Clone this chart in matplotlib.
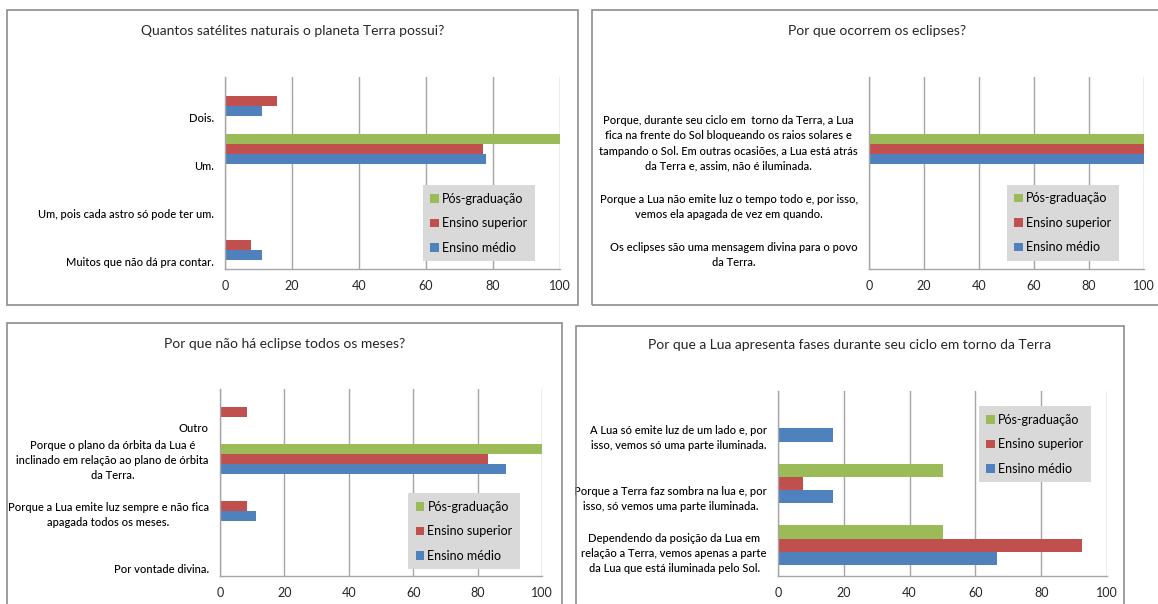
import matplotlib
matplotlib.use("Agg")
import matplotlib.pyplot as plt
import numpy as np
from matplotlib.patches import Rectangle

W, H = 1158, 604
DPI = 100
plt.rcParams['font.family'] = ['Lato', 'DejaVu Sans']

series = ["Pós-graduação", "Ensino superior", "Ensino médio"]
colors = ["#9BBB59", "#C0504D", "#4F81BD"]
xticks = [0, 20, 40, 60, 80, 100]

# Panel 1
title1 = "Quantos satélites naturais o planeta Terra possui?"
cats1 = ["Dois.", "Um.", "Um, pois cada astro só pode ter um.",
         "Muitos que não dá pra contar."]
pg1 = [0, 100, 0, 0]
es1 = [15.4, 76.9, 0, 7.7]
em1 = [11.1, 77.8, 0, 11.1]

# Panel 2
title2 = "Por que ocorrem os eclipses?"
cats2 = ["",
         "Porque, durante seu ciclo em  torno da Terra, a Lua\nfica na frente do Sol bloqueando os raios solares e\ntampando o Sol. Em outras ocasiões, a Lua está atrás\nda Terra e, assim, não é iluminada.",
         "Porque a Lua não emite luz o tempo todo e, por isso,\nvemos ela apagada de vez em quando.",
         "Os eclipses são uma mensagem divina para o povo\nda Terra."]
pg2 = [0, 100, 0, 0]
es2 = [0, 100, 0, 0]
em2 = [0, 100, 0, 0]

# Panel 3
title3 = "Por que não há eclipse todos os meses?"
cats3 = ["Outro",
         "Porque o plano da órbita da Lua é\ninclinado em relação ao plano de órbita\nda Terra.",
         "Porque a Lua emite luz sempre e não fica\napagada todos os meses.",
         "Por vontade divina."]
pg3 = [0, 100, 0, 0]
es3 = [8.3, 83.3, 8.3, 0]
em3 = [0, 88.9, 11.1, 0]

# Panel 4
title4 = "Por que a Lua apresenta fases durante seu ciclo em torno da Terra"
cats4 = ["A Lua só emite luz de um lado e, por\nisso, vemos só uma parte iluminada.",
         "Porque a Terra faz sombra na lua e, por\nisso, só vemos uma parte iluminada.",
         "Dependendo da posição da Lua em\nrelação a Terra, vemos apenas a parte\nda Lua que está iluminada pelo Sol."]
pg4 = [0, 50, 50]
es4 = [0, 7.7, 92.3]
em4 = [16.7, 16.7, 66.7]

# layout (pixels, top-left origin)
panels = [
    dict(title=title1, cats=cats1, vals=[pg1, es1, em1], border=(7, 10, 578, 305),
         plot=(225, 77, 560, 269), ty=31, leg=(0.758, 0.237)),
    dict(title=title2, cats=cats2, vals=[pg2, es2, em2], border=(592, 10, 1162, 305),
         plot=(869, 77, 1144, 269), ty=31, leg=(0.705, 0.24)),
    dict(title=title3, cats=cats3, vals=[pg3, es3, em3], border=(7, 323, 562, 612),
         plot=(220, 389, 542, 576), ty=344, leg=(0.758, 0.238)),
    dict(title=title4, cats=cats4, vals=[pg4, es4, em4], border=(576, 326, 1124, 612),
         plot=(778, 391, 1107, 576), ty=345, leg=(0.78, 0.711)),
]

fig = plt.figure(figsize=(W / DPI, H / DPI), dpi=DPI)
fig.patch.set_facecolor('white')

def frac(x0, y0, x1, y1):
    return [x0 / W, 1 - y1 / H, (x1 - x0) / W, (y1 - y0) / H]

for p in panels:
    bx0, by0, bx1, by1 = p['border']
    fig.add_artist(Rectangle((bx0 / W, 1 - by1 / H), (bx1 - bx0) / W, (by1 - by0) / H,
                             transform=fig.transFigure, fill=False,
                             edgecolor='#8c8c8c', lw=1.2))
    fig.text((bx0 + bx1) / 2 / W, 1 - p['ty'] / H, p['title'], ha='center',
             va='center', fontsize=10, color='#262626')
    ax = fig.add_axes(frac(*p['plot']))
    cats = p['cats']
    n = len(cats)
    idx = np.arange(n)
    h = 0.215
    for k, (vals, color, name) in enumerate(zip(p['vals'], colors, series)):
        ax.barh(idx + (k - 1) * h, vals, height=h, color=color, label=name, lw=0)
    ax.set_ylim(n - 0.5, -0.5)
    ax.set_xlim(0, 100)
    ax.set_xticks(xticks)
    ax.xaxis.grid(True, color='#a6a6a6', lw=1)
    ax.set_axisbelow(True)
    for s in ['top', 'right']:
        ax.spines[s].set_visible(False)
    for s in ['left', 'bottom']:
        ax.spines[s].set_color('#a6a6a6')
        ax.spines[s].set_linewidth(1)
    ax.set_yticks(idx + 0.47, cats, va='bottom', multialignment='center',
                  fontsize=8, linespacing=1.45, color='black', fontweight='medium')
    ax.tick_params(axis='y', length=0, pad=8)
    ax.tick_params(axis='x', length=0, pad=8, labelsize=9, labelcolor='#262626')
    ax.legend(loc='center', bbox_to_anchor=p['leg'], frameon=True,
              facecolor='#d9d9d9', edgecolor='none', fancybox=False, framealpha=1,
              fontsize=9, handlelength=0.7, handleheight=0.7, handletextpad=0.25,
              labelspacing=1.0, borderpad=0.6, borderaxespad=0)

fig.savefig("out.png", dpi=DPI)
